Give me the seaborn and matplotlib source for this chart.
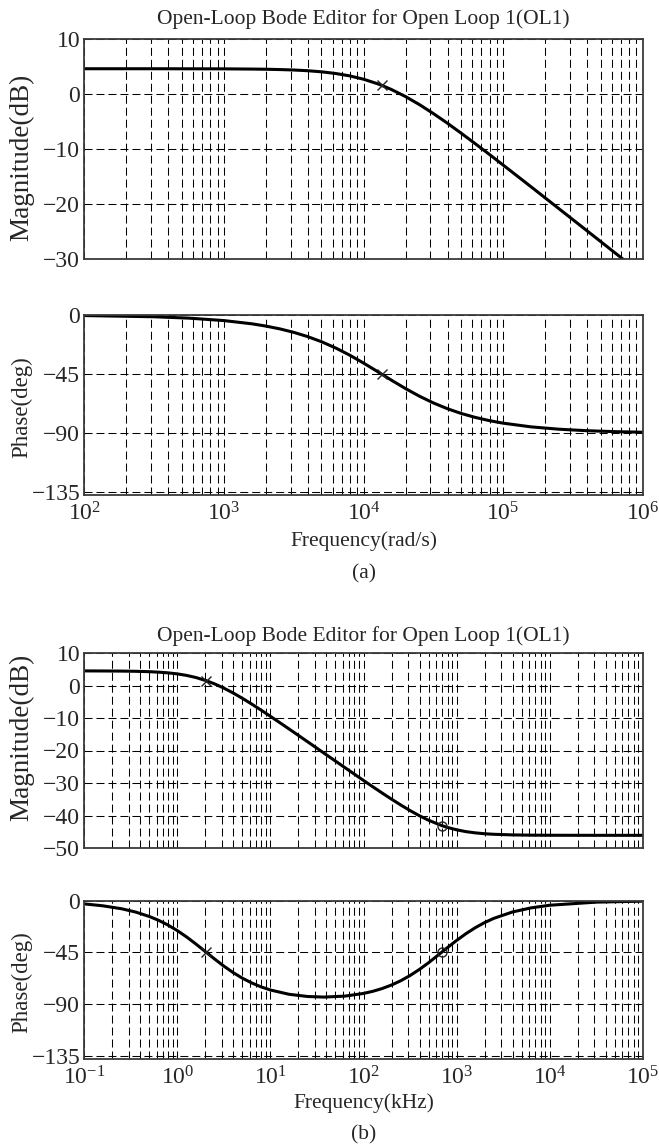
import matplotlib
matplotlib.use("Agg")
import matplotlib.pyplot as plt
import numpy as np
import pandas as pd
import seaborn as sns
from matplotlib.ticker import FixedLocator, FuncFormatter, LogLocator, NullFormatter

# ---------------- data ----------------
# (a) first-order lag, frequency in rad/s
freq_a = [100, 316, 562, 1000, 1585, 1995, 2512, 3162, 3981, 5012, 6310, 7943,
          10000, 12589, 13490, 15849, 19953, 25119, 31623, 39811, 50119,
          63096, 79433, 100000, 158489, 251189, 398107, 630957, 1000000]
mag_a = [4.60, 4.60, 4.59, 4.58, 4.54, 4.51, 4.45, 4.37, 4.24, 4.04, 3.74, 3.31,
         2.70, 1.88, 1.59, 0.83, -0.44, -1.90, -3.53, -5.27, -7.11,
         -9.00, -10.92, -12.88, -16.83, -20.81, -24.80, -28.80, -32.80]
phase_a = [-0.42, -1.34, -2.39, -4.24, -6.70, -8.41, -10.55, -13.19, -16.44, -20.38,
           -25.07, -30.49, -36.55, -43.02, -45.00, -49.60, -55.94, -61.76,
           -66.90, -71.28, -74.94, -77.93, -80.36, -82.32, -85.14, -86.93,
           -88.06, -88.78, -89.23]
pole_a_freq = [13490]
pole_a_mag = [1.59]
pole_a_phase = [-45.0]

# (b) lag-lead network, frequency in kHz
freq_b = [0.1, 0.158, 0.251, 0.355, 0.501, 0.631, 0.794, 1.0, 1.259, 1.585,
          2.042, 2.512, 3.162, 3.981, 5.012, 6.310, 7.943, 10.0, 15.85, 25.12,
          37.58, 63.10, 100.0, 125.9, 158.5, 199.5, 251.2, 316.2, 398.1, 501.2,
          691.8, 794.3, 1000, 1259, 1585, 1995, 2512, 3981, 6310, 10000, 31623,
          100000]
mag_b = [4.49, 4.47, 4.43, 4.37, 4.25, 4.10, 3.89, 3.57, 3.10, 2.45, 1.49,
         0.50, -0.81, -2.31, -3.97, -5.73, -7.58, -9.48, -13.37, -17.32,
         -20.80, -25.26, -29.21, -31.16, -33.08, -34.95, -36.76, -38.48,
         -40.06, -41.47, -43.09, -43.65, -44.40, -44.96, -45.34, -45.61,
         -45.78, -45.97, -46.05, -46.08, -46.10, -46.10]
phase_b = [-2.79, -4.43, -6.99, -9.83, -13.75, -17.12, -21.19, -26.02, -31.56,
           -37.69, -44.83, -50.69, -56.89, -62.52, -67.42, -71.55, -74.92,
           -77.63, -81.35, -83.27, -83.78, -82.94, -80.61, -78.76, -76.36,
           -73.32, -69.58, -65.06, -59.78, -53.85, -44.83, -40.91, -34.56,
           -28.70, -23.51, -19.06, -15.35, -9.83, -6.24, -3.95, -1.25, -0.40]
pole_b_freq = [2.042]
pole_b_mag = [1.49]
pole_b_phase = [-44.83]
zero_b_freq = [691.8]
zero_b_mag = [-43.09]
zero_b_phase = [-44.83]

mag_a_ticks = [-30, -20, -10, 0, 10]
mag_b_ticks = [-50, -40, -30, -20, -10, 0, 10]
phase_ticks = [-135, -90, -45, 0]
decades_a = [2, 3, 4, 5, 6]
decades_b = [-1, 0, 1, 2, 3, 4, 5]

title_text = "Open-Loop Bode Editor for Open Loop 1(OL1)"

# ---------------- style ----------------
sns.set_theme(style="white")
plt.rcParams["font.family"] = ["Liberation Serif", "DejaVu Serif"]
plt.rcParams["mathtext.fontset"] = "custom"
plt.rcParams["mathtext.rm"] = "Liberation Serif"
plt.rcParams["mathtext.it"] = "Liberation Serif:italic"
plt.rcParams["mathtext.default"] = "regular"
plt.rcParams["axes.unicode_minus"] = True

W, H = 659, 1146
fig = plt.figure(figsize=(W / 100, H / 100), dpi=100)
fig.patch.set_facecolor("white")

L, R = 84.3, 642.7


def rect(top, bottom):
    return [L / W, 1 - bottom / H, (R - L) / W, (bottom - top) / H]


GRID = dict(color="black", linewidth=0.75, linestyle=(0, (7.7, 3.8)))


def panel(top, bottom, freq, vals, ylim, yticks, decs, ylabel, ylab_size,
          ylab_center, marks):
    ax = fig.add_axes(rect(top, bottom))
    df = pd.DataFrame({"freq": freq, "val": vals})
    sns.lineplot(data=df, x="freq", y="val", ax=ax, color="black",
                 linewidth=2.2, zorder=3)
    ax.set_xscale("log")
    ax.set_xlim(10.0 ** decs[0], 10.0 ** decs[-1])
    ax.set_ylim(*ylim)
    ax.xaxis.set_major_locator(FixedLocator([10.0 ** d for d in decs]))
    ax.xaxis.set_minor_locator(LogLocator(base=10, subs=range(2, 10), numticks=100))
    ax.xaxis.set_minor_formatter(NullFormatter())
    ax.yaxis.set_major_locator(FixedLocator(yticks))
    ax.yaxis.set_major_formatter(FuncFormatter(lambda v, p: f"{int(v)}".replace("-", "\u2212")))
    ax.grid(True, which="major", axis="both", **GRID)
    ax.grid(True, which="minor", axis="x", **GRID)
    ax.tick_params(which="both", length=0)
    ax.tick_params(axis="y", labelsize=17, pad=3)
    ax.tick_params(axis="x", labelsize=17, pad=5)
    ax.set_xlabel("")
    ax.set_ylabel("")
    for s in ax.spines.values():
        s.set_color("#3a3a3a")
        s.set_linewidth(1.3)
        s.set_zorder(4)
    for mx, my, mk in marks:
        if mk == "x":
            ax.plot(mx, my, linestyle="none", marker="x", color="#222222",
                    markersize=7, markeredgewidth=1.0, zorder=5)
        else:
            ax.plot(mx, my, linestyle="none", marker="o", color="#222222",
                    markerfacecolor="none", markersize=6.5,
                    markeredgewidth=1.0, zorder=5)
    fig.text(22 / W, 1 - ylab_center / H, ylabel, rotation=90, ha="center",
             va="center", fontsize=ylab_size)
    return ax


# (a) magnitude
ax1 = panel(39, 259.3, freq_a, mag_a, (-30, 10), mag_a_ticks, decades_a,
            "Magnitude(dB)", 19.5, 157.5, [(pole_a_freq, pole_a_mag, "x")])
ax1.set_xticklabels([])
# (a) phase
ax2 = panel(315, 495, freq_a, phase_a, (-137.0, 0), phase_ticks, decades_a,
            "Phase(deg)", 16.5, 407.5, [(pole_a_freq, pole_a_phase, "x")])
ax2.set_xticklabels([r"$\mathregular{10^{%d}}$" % d for d in decades_a])
# (b) magnitude
ax3 = panel(653, 848, freq_b, mag_b, (-50, 10), mag_b_ticks, decades_b,
            "Magnitude(dB)", 19.5, 737.5,
            [(pole_b_freq, pole_b_mag, "x"), (zero_b_freq, zero_b_mag, "o")])
ax3.set_xticklabels([])
# (b) phase
ax4 = panel(900.7, 1059, freq_b, phase_b, (-137.6, 0), phase_ticks, decades_b,
            "Phase(deg)", 16.5, 982.5,
            [(pole_b_freq, pole_b_phase, "x"), (zero_b_freq, zero_b_phase, "o")])
ax4.set_xticklabels([r"$\mathregular{10^{%d}}$" % d for d in decades_b])

cx = (L + R) / 2 / W
fig.text(cx, 1 - 24 / H, title_text, ha="center", va="baseline", fontsize=15.5)
fig.text(cx, 1 - 641 / H, title_text, ha="center", va="baseline", fontsize=15.5)
fig.text(cx, 1 - 541 / H, "Frequency(rad/s)", ha="center", va="center", fontsize=15.5)
fig.text(cx, 1 - 574 / H, "(a)", ha="center", va="center", fontsize=15.5)
fig.text(cx, 1 - 1103 / H, "Frequency(kHz)", ha="center", va="center", fontsize=15.5)
fig.text(cx, 1 - 1135 / H, "(b)", ha="center", va="center", fontsize=15.5)

fig.savefig("out.png", dpi=100, facecolor="white")
